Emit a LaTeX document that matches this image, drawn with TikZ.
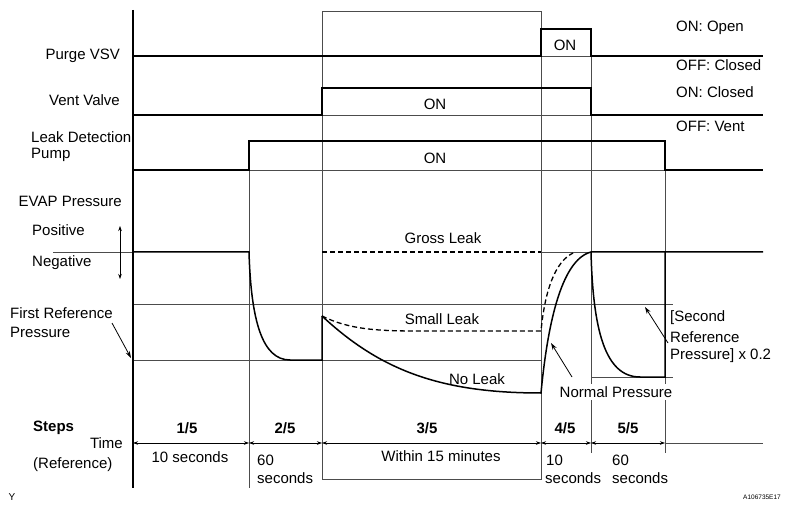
\documentclass[tikz,border=0pt]{standalone}
\usepackage{fontspec}
\setmainfont{Liberation Sans}
\usetikzlibrary{arrows.meta}
\begin{document}
\begin{tikzpicture}[x=1pt,y=-1pt,
  sig/.style={line width=1.5pt, black, line join=miter},
  thn/.style={line width=0.6pt, black!70},
  dsh/.style={line width=1.3pt, black, dash pattern=on 5pt off 3pt},
  lbl/.style={font=\fontsize{15}{17}\selectfont, inner sep=0pt},
  bld/.style={font=\fontsize{15}{17}\selectfont\bfseries, inner sep=0pt},
  tarr/.style={line width=0.6pt, black, {Stealth[length=5pt,width=3.5pt]}-{Stealth[length=5pt,width=3.5pt]}},
  parr/.style={line width=0.8pt, black, -{Stealth[length=7pt,width=4.5pt]}}]
\useasboundingbox (0,0) rectangle (789,510);
\fill[white] (0,0) rectangle (789,510);

% grid / frame lines
\draw[thn] (322,11) -- (541,11) -- (541,479) -- (322,479) -- cycle;
\draw[thn] (249,170) -- (249,488);
\draw[thn] (591,56) -- (591,453);
\draw[thn] (665,170) -- (665,453);
\draw[thn] (541,56) -- (591,56);
\draw[thn] (322,115) -- (591,115);
\draw[thn] (249,170) -- (665,170);
\draw[thn] (53,252) -- (133,252);
\draw[thn] (541,252) -- (591,252);
\draw[thn] (133,304) -- (673,304);
\draw[thn] (133,360) -- (541,360);
\draw[thn] (591,377) -- (673,377);
\draw[line width=1.3pt] (133,10) -- (133,488);

% signals
\draw[sig] (133,56) -- (541,56) -- (541,29) -- (591,29) -- (591,56) -- (763,56);
\draw[sig] (133,115) -- (322,115) -- (322,88) -- (591,88) -- (591,115) -- (763,115);
\draw[sig] (133,170) -- (249,170) -- (249,141) -- (665,141) -- (665,170) -- (763,170);

% pressure
\draw[sig] (133,252) -- (249,252) .. controls (251,320) and (262,360) .. (290,360) -- (322,360) -- (322,316);
\draw[sig] (322,316) .. controls (380,370) and (440,393) .. (541,393) .. controls (547,330) and (560,260) .. (591,252) -- (763,252);
\draw[dsh] (322,316) .. controls (350,330) and (380,331) .. (420,331) -- (541,331) .. controls (545,290) and (555,262) .. (573,253);
\draw[dsh] (322,252) -- (541,252);
\draw[sig] (591,252) .. controls (593,330) and (605,377) .. (640,377) -- (665,377) -- (665,252);

% labels left
\node[lbl, anchor=base east] (purge) at (120,60) {Purge VSV};
\node[lbl, anchor=base east] (vent) at (120,106) {Vent Valve};
\node[lbl, anchor=west] (ldp1) at (31,137) {Leak Detection};
\node[lbl, anchor=west] (ldp2) at (31,155) {Pump};
\node[lbl, anchor=east] (evap) at (122,201) {EVAP Pressure};
\node[lbl, anchor=west] (pos) at (32,230) {Positive};
\node[lbl, anchor=west] (neg) at (32,263) {Negative};
\coordinate (pm) at (120,252);
\coordinate (pt) at (120,226);
\coordinate (pb) at (120,279);
\draw[line width=0.6pt, -{Stealth[length=5pt,width=3.5pt]}] (pm) -- (pt);
\draw[line width=0.6pt, -{Stealth[length=5pt,width=3.5pt]}] (pm) -- (pb);
\node[lbl, anchor=west] (fr1) at (10,313) {First Reference};
\node[lbl, anchor=west] (fr2) at (10,332) {Pressure};
\coordinate (frs) at (112,323);
\coordinate (fre) at (131,358);
\draw[parr] (frs) -- (fre);

% ON labels
\node[lbl] (on1) at (565,45) {ON};
\node[lbl] (on2) at (435,104) {ON};
\node[lbl] (on3) at (435,158) {ON};
\node[lbl, anchor=west] (onopen) at (676,28) {ON: Open};
\node[lbl, anchor=west] (offcl) at (676,65) {OFF: Closed};
\node[lbl, anchor=west] (oncl) at (676,92) {ON: Closed};
\node[lbl, anchor=west] (offv) at (676,126) {OFF: Vent};

% pressure labels
\node[lbl] (gross) at (443,238) {Gross Leak};
\node[lbl] (small) at (442,319) {Small Leak};
\node[lbl] (noleak) at (477,379) {No Leak};
\node[lbl, fill=white, inner xsep=1pt, inner ysep=2pt] (normal) at (616,392) {Normal Pressure};
\coordinate (nps) at (572,377);
\coordinate (npe) at (551,343);
\draw[parr] (nps) -- (npe);
\node[lbl, anchor=west] (sr1) at (670,318) {[Second};
\node[lbl, anchor=west] (sr2) at (670,337) {Reference};
\node[lbl, anchor=west] (sr3) at (670,356) {Pressure] x 0.2};
\coordinate (srs) at (668,343);
\coordinate (sre) at (645,307);
\draw[parr] (srs) -- (sre);

% steps / time
\node[bld, anchor=west] (steps) at (33,428) {Steps};
\node[lbl, anchor=east] (time) at (123,443) {Time};
\node[lbl, anchor=west] (ref) at (33,465) {(Reference)};
\coordinate (t0) at (133,443);
\coordinate (t1) at (249,443);
\coordinate (t2) at (322,443);
\coordinate (t3) at (541,443);
\coordinate (t4) at (591,443);
\coordinate (t5) at (665,443);
\coordinate (t6) at (763,443);
\draw[tarr] (t0) -- (t1);
\draw[tarr] (t1) -- (t2);
\draw[tarr] (t2) -- (t3);
\draw[tarr] (t3) -- (t4);
\draw[tarr] (t4) -- (t5);
\draw[thn] (t5) -- (t6);
\node[bld] (s1) at (187,428) {1/5};
\node[bld] (s2) at (285,428) {2/5};
\node[bld] (s3) at (427,428) {3/5};
\node[bld] (s4) at (565,428) {4/5};
\node[bld] (s5) at (628,428) {5/5};
\node[lbl] (d1) at (190,457) {10 seconds};
\node[lbl, anchor=west] (d2a) at (257,460) {60};
\node[lbl, anchor=west] (d2b) at (257,478) {seconds};
\node[lbl] (d3) at (441,456) {Within 15 minutes};
\node[lbl, anchor=west] (d4a) at (546,460) {10};
\node[lbl, anchor=west] (d4b) at (545,478) {seconds};
\node[lbl, anchor=west] (d5a) at (612,460) {60};
\node[lbl, anchor=west] (d5b) at (612,478) {seconds};

\node[lbl, font=\fontsize{10}{12}\selectfont] (y) at (12,497) {Y};
\node[lbl, anchor=east, font=\fontsize{6.5}{8}\selectfont] (code) at (781,497) {A106735E17};
\end{tikzpicture}
\end{document}
